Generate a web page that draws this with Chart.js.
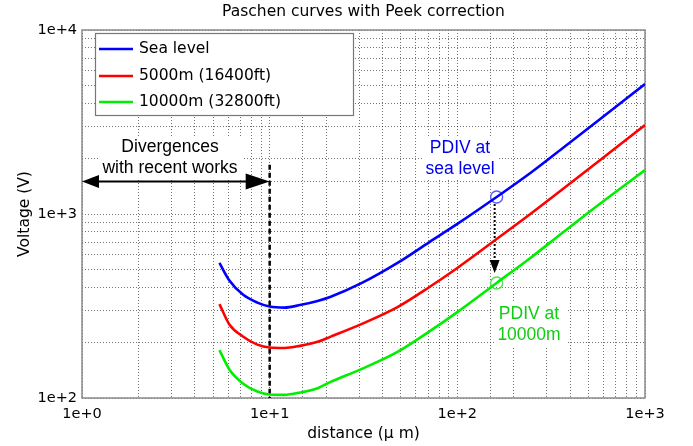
<!DOCTYPE html>
<html>
<head>
<meta charset="utf-8">
<script src="https://cdn.jsdelivr.net/npm/chart.js@4.4.0/dist/chart.umd.min.js"></script>
<style>
  html, body { margin: 0; padding: 0; background: #fff; }
</style>
</head>
<body>
<canvas id="chart" width="693" height="446"></canvas>
<script>
// distance in micrometres, voltage in volts
const distance = [5.4, 6.1, 7.2, 8.6, 10, 12, 14.5, 18, 21, 31, 48, 71, 100, 162, 245, 365, 555, 1000];
const seaLevel = [542, 435, 365, 330, 314, 310, 320, 337, 354, 422, 542, 704, 883, 1237, 1670, 2284, 3182, 5087];
const alt5000 = [324, 251, 216, 195, 188, 187, 192, 202, 215, 253, 312, 401, 509, 731, 1000, 1367, 1905, 3045];
const alt10000 = [182, 143, 120, 108.5, 104.5, 104, 107, 113, 122, 144, 178, 230, 293, 422, 577, 793, 1105, 1734];

const seriesLabels = ["Sea level", "5000m (16400ft)", "10000m (32800ft)"];
const seriesColors = ["#0000ff", "#ff0000", "#00ee00"];

// PDIV markers
const pdivDistance = 162;
const pdivSea = 1237;
const pdiv10000 = 422;

const FONT = "'DejaVu Sans', Verdana, sans-serif";
const ARIAL = "'Liberation Sans', Arial, sans-serif";

function toPoints(ys) {
    return distance.map((d, i) => ({ x: d, y: ys[i] }));
}

function expLabel(v) {
    const e = Math.round(Math.log10(v));
    if (Math.abs(Math.log10(v) - e) > 1e-9) return "";
    return "1e+" + e;
}

function arrowHead(ctx, x, y, dir, len, half) {
    ctx.beginPath();
    ctx.moveTo(x, y);
    ctx.lineTo(x - dir * len, y - half);
    ctx.lineTo(x - dir * len, y + half);
    ctx.closePath();
    ctx.fill();
}

function arrowDown(ctx, x, y, half, len) {
    ctx.beginPath();
    ctx.moveTo(x, y);
    ctx.lineTo(x - half, y - len);
    ctx.lineTo(x + half, y - len);
    ctx.closePath();
    ctx.fill();
}

function textBlock(ctx, lines, cx, cy, color, box) {
    ctx.fillStyle = "#fff";
    ctx.fillRect(box[0], box[1], box[2], box[3]);
    ctx.fillStyle = color;
    ctx.font = "17.5px " + ARIAL;
    ctx.textAlign = "center";
    ctx.textBaseline = "middle";
    lines.forEach((t, i) => ctx.fillText(t, cx, cy + i * 21));
}

const overlay = {
    id: "overlay",
    beforeDatasetsDraw(chart) {
        const { ctx, chartArea: a, scales: { x, y } } = chart;
        ctx.save();

        // frame
        ctx.strokeStyle = "#8a8a8a";
        ctx.lineWidth = 1.5;
        ctx.strokeRect(a.left, a.top, a.right - a.left, a.bottom - a.top);

        // annotations with white background
        textBlock(ctx, ["Divergences", "with recent works"], 170, 147, "#000", [100, 136, 142, 42]);
        textBlock(ctx, ["PDIV at", "sea level"], 460, 148, "#0000ee", [424, 136, 74, 44]);
        textBlock(ctx, ["PDIV at", "10000m"], 529, 314, "#11cc11", [494, 302, 72, 44]);

        // dashed limit at 10 um
        const x10 = x.getPixelForValue(10);
        ctx.strokeStyle = "#000";
        ctx.lineWidth = 2.5;
        ctx.setLineDash([5, 3]);
        ctx.beginPath();
        ctx.moveTo(x10, y.getPixelForValue(1850));
        ctx.lineTo(x10, a.bottom);
        ctx.stroke();
        ctx.setLineDash([]);

        // double arrow
        const ya = y.getPixelForValue(1500);
        ctx.fillStyle = "#000";
        ctx.lineWidth = 2;
        ctx.beginPath();
        ctx.moveTo(a.left + 10, ya);
        ctx.lineTo(x10 - 12, ya);
        ctx.stroke();
        arrowHead(ctx, a.left, ya, -1, 17, 6.5);
        arrowHead(ctx, x10, ya, 1, 24, 8);

        // dotted arrow between PDIV points
        const xp = x.getPixelForValue(pdivDistance) - 2;
        const y1 = y.getPixelForValue(pdivSea) + 7;
        const y2 = y.getPixelForValue(pdiv10000) - 10;
        ctx.lineWidth = 2;
        ctx.setLineDash([2, 2]);
        ctx.beginPath();
        ctx.moveTo(xp, y1);
        ctx.lineTo(xp, y2 - 10);
        ctx.stroke();
        ctx.setLineDash([]);
        arrowDown(ctx, xp, y2, 5, 13);

        // legend
        ctx.fillStyle = "#fff";
        ctx.fillRect(95, 33, 259, 83);
        ctx.strokeStyle = "#777";
        ctx.lineWidth = 1.2;
        ctx.strokeRect(95.5, 33.5, 258, 82);
        ctx.font = "15.5px " + FONT;
        ctx.textAlign = "left";
        ctx.textBaseline = "middle";
        [49, 76, 102].forEach((ly, i) => {
            ctx.strokeStyle = seriesColors[i];
            ctx.lineWidth = 2.5;
            ctx.beginPath();
            ctx.moveTo(99, ly);
            ctx.lineTo(133, ly);
            ctx.stroke();
            ctx.fillStyle = "#000";
            ctx.fillText(seriesLabels[i], 139, ly);
        });

        ctx.restore();
    },
    afterDraw(chart) {
        const { ctx, chartArea: a } = chart;
        ctx.save();
        ctx.fillStyle = "#000";
        ctx.font = "15.5px " + FONT;
        ctx.textAlign = "center";
        ctx.textBaseline = "middle";
        ctx.fillText("Paschen curves with Peek correction", (a.left + a.right) / 2, 12);
        ctx.restore();
    }
};

const gridOpts = {
    color: "rgba(0,0,0,0.55)",
    lineWidth: 1,
    drawTicks: false
};

new Chart(document.getElementById("chart"), {
    type: "scatter",
    data: {
        datasets: [
            { label: seriesLabels[0], data: toPoints(seaLevel), borderColor: seriesColors[0] },
            { label: seriesLabels[1], data: toPoints(alt5000), borderColor: seriesColors[1] },
            { label: seriesLabels[2], data: toPoints(alt10000), borderColor: seriesColors[2] },
            {
                label: "pdiv sea", data: [{ x: pdivDistance, y: pdivSea }],
                showLine: false, pointRadius: 6, borderColor: "#5a5aff", borderWidth: 1.4,
                backgroundColor: "rgba(0,0,0,0)"
            },
            {
                label: "pdiv 10000", data: [{ x: pdivDistance, y: pdiv10000 }],
                showLine: false, pointRadius: 6, borderColor: "#55dd55", borderWidth: 1.4,
                backgroundColor: "rgba(0,0,0,0)"
            }
        ]
    },
    options: {
        responsive: false,
        animation: false,
        layout: { padding: { top: 30, right: 48, left: 0, bottom: 0 } },
        datasets: {
            scatter: { showLine: true, pointRadius: 0, borderWidth: 2.6, cubicInterpolationMode: "monotone" }
        },
        plugins: {
            legend: { display: false },
            title: { display: false },
            tooltip: { enabled: false }
        },
        scales: {
            x: {
                type: "logarithmic",
                min: 1,
                max: 1000,
                grid: gridOpts,
                border: { display: false, dash: [1, 2] },
                ticks: {
                    autoSkip: false, maxRotation: 0, padding: 8, color: "#000",
                    font: { family: FONT, size: 14.5 },
                    callback: (v) => expLabel(v)
                },
                title: {
                    display: true, text: "distance (μ m)", color: "#000",
                    font: { family: FONT, size: 15.5 }, padding: { top: 0, bottom: 3 }
                },
                afterFit: (s) => { s.height = 48; }
            },
            y: {
                type: "logarithmic",
                min: 100,
                max: 10000,
                grid: gridOpts,
                border: { display: false, dash: [1, 2] },
                ticks: {
                    autoSkip: false, padding: 5, color: "#000",
                    font: { family: FONT, size: 14.5 },
                    callback: (v) => expLabel(v)
                },
                title: {
                    display: true, text: "Voltage (V)", color: "#000",
                    font: { family: FONT, size: 15.5 }, padding: { top: 16, bottom: 0 }
                },
                afterFit: (s) => { s.width = 82; }
            }
        }
    },
    plugins: [overlay]
});
</script>
</body>
</html>
